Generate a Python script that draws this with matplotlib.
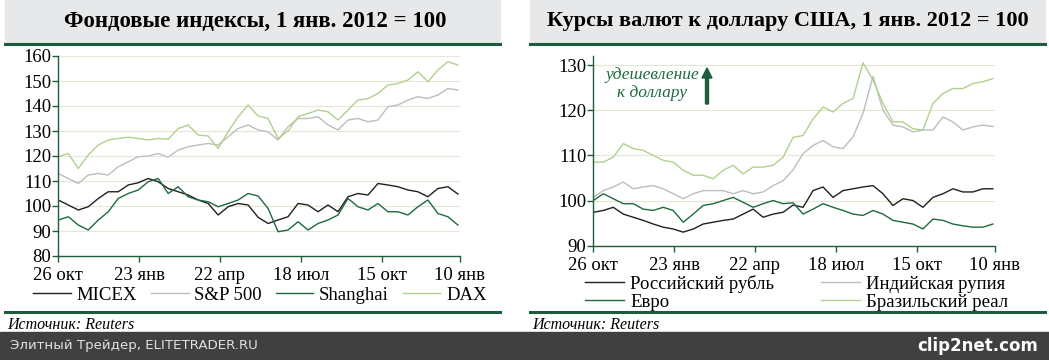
import matplotlib.pyplot as plt
from matplotlib.patches import Rectangle, FancyArrow
from matplotlib.lines import Line2D

# days since 26 Oct 2011 (sampled about every 11 days)
days = [0, 11, 22, 33, 44, 55, 66, 77, 88, 99, 110, 121, 132, 143, 154, 165, 176, 187, 198, 209, 220,
        231, 242, 253, 264, 275, 286, 297, 308, 319, 330, 341, 352, 363, 374, 385, 396, 407, 418, 429, 440]
tick_days = [0, 89, 178, 267, 356, 442]
tick_labels = ['26 окт', '23 янв', '22 апр', '18 июл', '15 окт', '10 янв']

# stock indices, 1 Jan 2012 = 100
micex = [102.4, 100.4, 98.4, 99.7, 103, 105.7, 105.7, 108.4, 109.3, 111, 109.7, 107, 105.7, 104.4, 102.4, 101, 96.4,
         99.7, 101, 100.4, 95.5, 93, 94.4, 95.7, 101, 100.4, 97.7, 100.4, 97.7, 103.7, 105, 104.4, 109, 108.4, 107.7,
         106.4, 105.7, 103.7, 107, 107.7, 104.8]
sp500 = [113, 111, 109, 112.4, 113, 112.4, 115.7, 117.7, 119.7, 120, 121, 119.5, 122.4, 123.7, 124.4, 125, 124.4,
         127.7, 131, 132.4, 130.4, 129.7, 126.4, 131.7, 135, 135, 135.7, 132.4, 130.4, 134.4, 135, 133.7, 134.4, 139.7,
         140.4, 142.4, 143.7, 143, 144.4, 147, 146.4]
shanghai = [94.4, 95.7, 92.4, 90.4, 94.4, 97.7, 103, 105, 106.4, 109.7, 111, 105, 107.7, 103.7, 102.4, 101.7, 99.7,
            101, 102.4, 105, 104, 99, 89.7, 90.4, 93.7, 90.4, 93, 94.4, 96.4, 103, 99.7, 98.4, 101, 97.7, 97.7, 96.4,
            99.7, 102.4, 97, 95.7, 92.4]
dax = [119.7, 121, 115, 120.4, 124.4, 126.4, 127, 127.5, 127, 126.4, 127, 126.7, 131, 132.4, 128.4, 128, 123, 129.7,
       135.7, 140.4, 136, 135, 127, 130, 135.7, 137, 138.4, 137.7, 134.4, 138.4, 142.4, 143, 145, 148.4, 149, 150.4,
       153.7, 149.7, 154.4, 157.7, 156.4]

# currencies vs USD, 1 Jan 2012 = 100
rub = [97.4, 97.8, 98.5, 97, 96.3, 95.6, 94.8, 94.1, 93.7, 93, 93.7, 94.8, 95.2, 95.6, 95.9, 97, 98.1, 96.3, 97, 97.4,
       99, 98.5, 102.2, 103, 100.7, 102.2, 102.6, 103, 103.3, 101.5, 98.9, 100.4, 100, 98.5, 100.7, 101.5, 102.6,
       101.9, 101.9, 102.6, 102.6]
inr = [100.7, 102.2, 103, 104.1, 102.6, 103, 103.3, 102.6, 101.5, 100.4, 101.5, 102.2, 102.2, 102.2, 101.5, 102.2,
       101.5, 101.9, 103.3, 104.4, 106.8, 110.4, 112.2, 113.3, 111.9, 111.5, 114.1, 119.3, 127.5, 120, 116.7, 116.3,
       115.2, 115.6, 115.6, 118.5, 117.4, 115.6, 116.3, 116.7, 116.4]
eur = [100, 101.5, 100.4, 99.3, 99.3, 98.1, 97.8, 98.5, 97.8, 95.2, 97, 98.9, 99.3, 100, 100.7, 99.6, 98.5, 99.3, 100,
       99.3, 99.5, 97, 98.1, 99.3, 98.5, 97.8, 97, 96.7, 97.8, 97, 95.6, 95.2, 94.8, 93.7, 95.9, 95.6, 94.8, 94.4,
       94.1, 94.1, 94.8]
brl = [108.5, 108.5, 109.6, 112.6, 111.5, 111.1, 110, 108.9, 108.5, 106.7, 105.6, 105.6, 104.8, 106.7, 107.8, 105.9,
       107.4, 107.4, 107.8, 109.6, 114, 114.4, 118.1, 120.7, 119.6, 121.5, 122.6, 130.5, 126.7, 121.5, 117.4, 117.4,
       115.9, 115.6, 121.5, 123.7, 124.8, 124.8, 125.9, 126.3, 127]

BLACK = '#231f20'
GRAY = '#bdbdbd'
DKGREEN = '#1d6b3f'
LTGREEN = '#b0d18d'
FRAME = '#1f5c3c'
SERIF = 'Liberation Serif'
FS = 13.5

W, H = 1049, 360
fig = plt.figure(figsize=(W / 100, H / 100), dpi=100)


def frac(x0, y0, x1, y1):
    # pixel box (top-left origin) -> figure fraction [l, b, w, h]
    return [x0 / W, 1 - y1 / H, (x1 - x0) / W, (y1 - y0) / H]


def style_axes(ax, ylim, yticks, xpad):
    ax.set_xlim(0, 442)
    ax.set_ylim(*ylim)
    ax.set_yticks(yticks)
    ax.set_xticks(tick_days)
    ax.set_xticklabels(tick_labels)
    for s in ['top', 'right']:
        ax.spines[s].set_visible(False)
    for s in ['left', 'bottom']:
        ax.spines[s].set_color(FRAME)
        ax.spines[s].set_linewidth(1.0)
    ax.tick_params(axis='both', colors=FRAME, length=4, width=1.0, labelcolor='black', labelsize=FS, pad=1)
    ax.tick_params(axis='x', pad=xpad)
    for lab in ax.get_xticklabels() + ax.get_yticklabels():
        lab.set_family(SERIF)
    ax.grid(axis='y', color='#e6e6d8', linewidth=0.8)
    ax.set_axisbelow(True)


# panel decorations
for x0, x1 in [(5, 500), (530, 1045)]:
    box = frac(x0, 0, x1, 43)
    fig.add_artist(Rectangle(box[:2], box[2], box[3], transform=fig.transFigure, color='#e6e8ea', zorder=0))
    fig.add_artist(Line2D([x0 / W, x1 / W], [1 - 44 / H, 1 - 44 / H], color=FRAME, lw=2.2,
                          transform=fig.transFigure))
    fig.add_artist(Line2D([x0 / W, x1 / W], [1 - 312 / H, 1 - 312 / H], color=FRAME, lw=2.2,
                          transform=fig.transFigure))

fig.text(255 / W, 1 - 21 / H, 'Фондовые индексы, 1 янв. 2012 = 100', ha='center', va='center',
         family=SERIF, fontsize=16.4, fontweight='bold')
fig.text(788 / W, 1 - 21 / H, 'Курсы валют к доллару США, 1 янв. 2012 = 100', ha='center', va='center',
         family=SERIF, fontsize=16, fontweight='bold')

# left chart
ax1 = fig.add_axes(frac(58.3, 56, 459.7, 256))
l1, = ax1.plot(days, micex, color=BLACK, lw=1.0, label='MICEX')
l2, = ax1.plot(days, sp500, color=GRAY, lw=1.0, label='S&P 500')
l3, = ax1.plot(days, shanghai, color=DKGREEN, lw=1.0, label='Shanghai')
l4, = ax1.plot(days, dax, color=LTGREEN, lw=1.0, label='DAX')
style_axes(ax1, (80, 160), range(80, 161, 10), 4)
fig.legend(handles=[l1, l2, l3, l4], loc='center', bbox_to_anchor=(260 / W, 1 - 295 / H), ncol=4,
           frameon=False, prop={'family': SERIF, 'size': FS}, handlelength=2.0, handletextpad=0.3,
           columnspacing=0.75, borderpad=0)

# right chart
ax2 = fig.add_axes(frac(593.3, 56, 994.7, 245.7))
r1, = ax2.plot(days, rub, color=BLACK, lw=1.0, label='Российский рубль')
r2, = ax2.plot(days, inr, color=GRAY, lw=1.0, label='Индийская рупия')
r3, = ax2.plot(days, eur, color=DKGREEN, lw=1.0, label='Евро')
r4, = ax2.plot(days, brl, color=LTGREEN, lw=1.0, label='Бразильский реал')
style_axes(ax2, (90, 132), range(90, 131, 10), 4)
for hs, xl in [([r1, r3], 585), ([r2, r4], 821)]:
    fig.legend(handles=hs, loc='center left', bbox_to_anchor=(xl / W, 1 - 293 / H), ncol=1,
               frameon=False, prop={'family': SERIF, 'size': FS}, handlelength=2.1, handletextpad=0.3,
               labelspacing=0.05, borderpad=0, borderaxespad=0)

fig.text(652 / W, 1 - 84 / H, 'удешевление\nк доллару', ha='center', va='center', family=SERIF,
         style='italic', fontsize=12.5, color=DKGREEN, linespacing=1.1)
fig.add_artist(FancyArrow(707 / W, 1 - 104 / H, 0, 36 / H, width=3 / W, head_width=10 / W, head_length=10 / H,
                          length_includes_head=True, color=FRAME, transform=fig.transFigure))

# source lines
fig.text(7 / W, 1 - 325 / H, 'Источник: Reuters', family=SERIF, style='italic', fontsize=11.5, va='center')
fig.text(532 / W, 1 - 325 / H, 'Источник: Reuters', family=SERIF, style='italic', fontsize=11.5, va='center')

# dark footer bar
fig.add_artist(Rectangle((0, 0), 1, 28 / H, transform=fig.transFigure, color='#404040', zorder=0))
fig.text(10 / W, 14 / H, 'Элитный Трейдер, ELITETRADER.RU', color='#e0e0e0', fontsize=9.6, va='center',
         family='DejaVu Sans')
fig.text(1038 / W, 14 / H, 'clip2net.com', color='white', fontsize=12, fontweight='bold', va='center',
         ha='right', family='DejaVu Sans')

fig.savefig('out.png', dpi=100)
